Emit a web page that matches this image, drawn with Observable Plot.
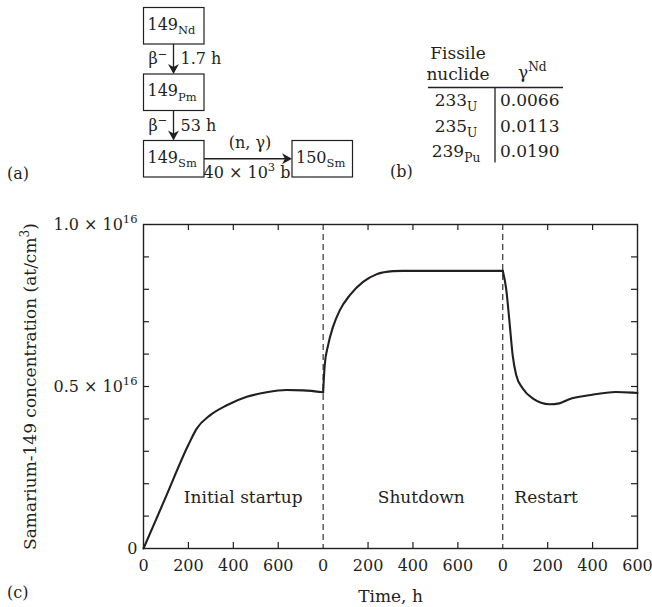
<!DOCTYPE html>
<html>
<head>
<meta charset="utf-8">
<script src="https://cdn.jsdelivr.net/npm/d3@7"></script>
<script src="https://cdn.jsdelivr.net/npm/@observablehq/plot@0.6"></script>
<style>
  html, body { margin: 0; padding: 0; background: #fff; }
  #wrap { position: relative; width: 652px; height: 607px; overflow: hidden; }
  #wrap svg { display: block; }
</style>
</head>
<body>
<div id="wrap"></div>
<script>
// ---------------- data ----------------
const sections = ["Initial startup", "Shutdown", "Restart"];
const sectionLength = 800;                 // hours per panel on the time axis
const sectionLabelT = [444, 437, 193];     // local time (h) of each panel label centre
const sectionLabelN = [0.156, 0.156, 0.156];

// Sm-149 concentration, units of 1e16 at/cm3, vs local time in each panel (h)
const startupT = [0, 100, 200, 237, 296, 371, 460, 548, 637, 711, 800];
const startupN = [0, 0.160, 0.320, 0.370, 0.411, 0.442, 0.468, 0.482, 0.489, 0.488, 0.482];
const shutdownT = [0, 7, 22, 44, 74, 119, 178, 237, 311, 356, 800];
const shutdownN = [0.482, 0.566, 0.627, 0.684, 0.735, 0.782, 0.823, 0.846, 0.856, 0.857, 0.857];
const restartT = [0, 15, 30, 44, 60, 89, 133, 208, 252, 296, 385, 504, 578, 600];
const restartN = [0.857, 0.802, 0.699, 0.597, 0.535, 0.494, 0.463, 0.445, 0.448, 0.461, 0.473, 0.483, 0.481, 0.480];

const xLabelValues = [0, 200, 400, 600, 800, 1000, 1200, 1400, 1600, 1800, 2000, 2200];
const xMinorTicks = [200, 400, 600, 1000, 1200, 1400, 1800, 2000];
const yLabelValues = [0, 0.5, 1.0];
const yLabelText = ["0", "0.5 × 10^{16}", "1.0 × 10^{16}"];
const yMinorTicks = [0.1, 0.2, 0.3, 0.4, 0.5, 0.6, 0.7, 0.8, 0.9];
const xTitle = "Time, h";
const yTitle = "Samarium-149 concentration (at/cm^{3})";

// (a) decay chain
const chainMass = ["149", "149", "149", "150"];
const chainElement = ["Nd", "Pm", "Sm", "Sm"];
const decayMode = ["β^{−}", "β^{−}"];
const halfLife = ["1.7 h", "53 h"];
const captureReaction = "(n, γ)";
const captureXS = "40 × 10^{3} b";

// (b) table
const tableHead = ["Fissile", "nuclide", "γ^{Nd}"];
const fissileMass = ["233", "235", "239"];
const fissileElement = ["U", "U", "Pu"];
const gammaNd = ["0.0066", "0.0113", "0.0190"];
const panelTags = ["(a)", "(b)", "(c)"];

// ---------------- helpers ----------------
const ink = "#231f20";
const FONT = '"DejaVu Serif", "Liberation Serif", serif';
const NS = "http://www.w3.org/2000/svg";

function setRich(el, str, fs) {
  el.textContent = "";
  const re = /([\^_])\{([^}]*)\}/g;
  let last = 0, cur = 0, m;
  const add = (s, target, size) => {
    if (!s) return;
    const t = document.createElementNS(NS, "tspan");
    t.textContent = s;
    const dy = target - cur;
    if (Math.abs(dy) > 1e-6) t.setAttribute("dy", dy.toFixed(2));
    if (size) t.setAttribute("font-size", size);
    cur = target;
    el.appendChild(t);
  };
  while ((m = re.exec(str))) {
    add(str.slice(last, m.index), 0, null);
    if (m[1] === "^") add(m[2], -0.4 * fs, (0.72 * fs).toFixed(1));
    else add(m[2], 0.3 * fs, (0.72 * fs).toFixed(1));
    last = re.lastIndex;
  }
  add(str.slice(last), 0, null);
  if (el.childNodes.length === 0) el.textContent = str;
}

// ---------------- chart (c) ----------------
const W = 652, H = 607;
const mL = 143, mR = 15, mT = 224, mB = 59;
const plotW = W - mL - mR, plotH = H - mT - mB;

const curve = [];
[[startupT, startupN], [shutdownT, shutdownN], [restartT, restartN]].forEach(([T, N], s) => {
  T.forEach((t, i) => curve.push({section: sections[s], x: s * sectionLength + t, y: N[i]}));
});
const regionLabels = sections.map((name, s) => ({name, x: s * sectionLength + sectionLabelT[s], y: sectionLabelN[s]}));
const boundaries = [1, 2].map(s => s * sectionLength);

const chart = Plot.plot({
  width: W, height: H,
  marginLeft: mL, marginRight: mR, marginTop: mT, marginBottom: mB,
  style: {fontFamily: FONT, fontSize: "16px", color: ink, background: "transparent", overflow: "visible"},
  x: {domain: [0, 3 * sectionLength - 200]},
  y: {domain: [0, 1]},
  marks: [
    Plot.ruleX(boundaries, {x: d => d, stroke: ink, strokeWidth: 1.1, strokeDasharray: "6,4"}),
    Plot.tickY(yMinorTicks, {y: d => d, insetRight: plotW - 6, stroke: ink, strokeWidth: 1.2}),
    Plot.tickY(yMinorTicks, {y: d => d, insetLeft: plotW - 6, stroke: ink, strokeWidth: 1.2}),
    Plot.tickX(xMinorTicks, {x: d => d, insetTop: plotH - 6, stroke: ink, strokeWidth: 1.2}),
    Plot.tickX(xMinorTicks, {x: d => d, insetBottom: plotH - 6, stroke: ink, strokeWidth: 1.2}),
    Plot.line(curve, {x: "x", y: "y", z: "section", curve: "monotone-x", stroke: ink, strokeWidth: 2.1}),
    Plot.frame({stroke: ink, strokeWidth: 1.4}),
    Plot.axisX({ticks: xLabelValues, tickSize: 0, tickPadding: 11, label: null, fontSize: 16,
                tickFormat: d => String(d % sectionLength)}),
    Plot.axisY({ticks: yLabelValues, tickSize: 0, tickPadding: 6, label: null, fontSize: 16,
                tickFormat: d => yLabelText[yLabelValues.indexOf(d)]}),
    Plot.text(regionLabels, {x: "x", y: "y", text: "name", fontSize: 17, fill: ink}),
    Plot.text([xTitle], {frameAnchor: "bottom", textAnchor: "middle", lineAnchor: "middle", dy: 48,
                         text: d => d, fontSize: 17, fill: ink}),
    Plot.text([yTitle], {frameAnchor: "left", textAnchor: "middle", lineAnchor: "middle", rotate: -90, dx: -113,
                         text: d => d, fontSize: 17, fill: ink})
  ]
});
const wrap = document.getElementById("wrap");
wrap.appendChild(chart);
chart.querySelectorAll("text").forEach(el => {
  const s = el.textContent;
  if (/[\^_]\{/.test(s)) setRich(el, s, parseFloat(getComputedStyle(el).fontSize) || 16);
});

// ---------------- overlay: (a) chain, (b) table, panel tags ----------------
const ov = d3.select(wrap).append("svg")
  .attr("width", W).attr("height", H)
  .style("position", "absolute").style("left", "0px").style("top", "0px")
  .attr("font-family", FONT).attr("fill", ink);

function richText(x, y, str, fs, anchor) {
  const t = ov.append("text").attr("x", x).attr("y", y).attr("font-size", fs)
    .attr("text-anchor", anchor || "start").attr("fill", ink);
  setRich(t.node(), str, fs);
  return t;
}
function arrow(x1, y1, x2, y2) {
  const L = Math.hypot(x2 - x1, y2 - y1), ux = (x2 - x1) / L, uy = (y2 - y1) / L;
  const px = -uy, py = ux, hl = 10, hw = 5.5;
  ov.append("line").attr("x1", x1).attr("y1", y1).attr("x2", x2 - ux * 6).attr("y2", y2 - uy * 6)
    .attr("stroke", ink).attr("stroke-width", 1.3);
  const pts = [
    [x2, y2],
    [x2 - ux * hl + px * hw, y2 - uy * hl + py * hw],
    [x2 - ux * hl * 0.7, y2 - uy * hl * 0.7],
    [x2 - ux * hl - px * hw, y2 - uy * hl - py * hw]
  ];
  ov.append("polygon").attr("points", pts.map(p => p.join(",")).join(" ")).attr("fill", ink);
}

// chain layout
const bx = 143.5, bw = 60.5, bh = 36.5, by0 = 7.5, gap = 30, bx4 = 292;
const boxes = chainMass.map((m, i) => i < 3
  ? {x: bx, y: by0 + i * (bh + gap), label: m + "_{" + chainElement[i] + "}"}
  : {x: bx4, y: by0 + 2 * (bh + gap), label: m + "_{" + chainElement[i] + "}"});
boxes.forEach(b => {
  ov.append("rect").attr("x", b.x).attr("y", b.y).attr("width", bw).attr("height", bh)
    .attr("fill", "none").attr("stroke", ink).attr("stroke-width", 1.2);
  richText(b.x + 4, b.y + 22, b.label, 16, "start");
});
const ax = bx + 30;
for (let i = 0; i < 2; i++) {
  const y1 = boxes[i].y + bh, y2 = boxes[i + 1].y;
  arrow(ax, y1, ax, y2);
  richText(ax - 6, (y1 + y2) / 2 + 5, decayMode[i], 16, "end");
  richText(ax + 7, (y1 + y2) / 2 + 5, halfLife[i], 16, "start");
}
const hy = boxes[2].y + bh / 2;
arrow(bx + bw, hy, bx4, hy);
richText((bx + bw + bx4) / 2 + 2, hy - 11, captureReaction, 16, "middle");
richText((bx + bw + bx4) / 2 - 1, hy + 19, captureXS, 16, "middle");

// table
const colName = 458, colSep = 495, colVal = 500;
richText(colName, 59, tableHead[0], 17, "middle");
richText(colName, 80, tableHead[1], 17, "middle");
richText(518, 78, tableHead[2], 17, "start");
ov.append("line").attr("x1", 428).attr("x2", 563).attr("y1", 87.5).attr("y2", 87.5)
  .attr("stroke", ink).attr("stroke-width", 1.3);
ov.append("line").attr("x1", colSep).attr("x2", colSep).attr("y1", 87.5).attr("y2", 162.5)
  .attr("stroke", ink).attr("stroke-width", 1.3);
fissileMass.forEach((m, i) => {
  const yb = 106 + i * 25.5;
  richText(colName - 2, yb, m + "_{" + fissileElement[i] + "}", 17, "middle");
  richText(colVal, yb, gammaNd[i], 17, "start");
});

// panel tags
richText(7, 179, panelTags[0], 16, "start");
richText(390, 177, panelTags[1], 16, "start");
richText(7, 598, panelTags[2], 16, "start");
</script>
</body>
</html>
